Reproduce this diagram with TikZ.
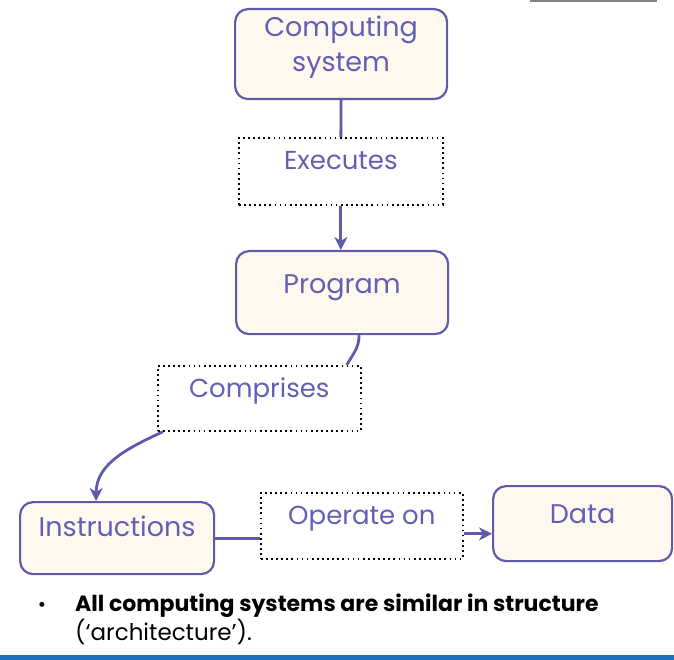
\documentclass[tikz,border=0pt]{standalone}
\usepackage{fontspec}
\setmainfont{Poppins}
\usetikzlibrary{arrows.meta, positioning}
\definecolor{boxline}{RGB}{94,92,170}
\definecolor{boxtext}{RGB}{98,96,180}
\definecolor{boxfill}{RGB}{255,248,238}
\definecolor{rulecol}{RGB}{30,112,192}
\begin{document}
\begin{tikzpicture}
  [
    x=1pt, y=1pt,
    every node/.style={inner sep=0pt, anchor=north west},
    box/.style={draw=boxline, fill=boxfill, line width=2.2pt, rounded corners=13pt,
      text=boxtext, align=center, font=\fontsize{27}{35}\selectfont},
    verb/.style={draw=black, line width=1.7pt, dash pattern=on 1.7pt off 3.4pt,
      text=boxtext, align=center, font=\fontsize{26}{34}\selectfont},
    link/.style={draw=boxline, line width=2.8pt},
    tip/.style={-{Stealth[length=13pt, width=13pt, inset=4pt]}}
  ]
  \useasboundingbox (0,0) rectangle (674,-660);
  \draw[gray, line width=2pt] (530,-1) -- (657,-1);

  \node[box, minimum width=212pt, text height=62pt, text depth=28pt] (computing) at (234,-8) {Computing\\system};
  \node[verb, minimum width=204pt, text height=32pt, text depth=35pt] (executes) at (238,-137) {Executes};
  \node[box, minimum width=212pt, text height=42pt, text depth=41pt] (program) at (235,-250) {Program};
  \node[verb, minimum width=203pt, text height=32pt, text depth=33pt] (comprises) at (157,-365) {Comprises};
  \node[box, minimum width=194pt, text height=34pt, text depth=38pt] (instructions) at (19,-501) {Instructions};
  \node[verb, minimum width=202pt, text height=32pt, text depth=34pt] (operate) at (260,-492) {Operate on};
  \node[box, minimum width=179pt, text height=37pt, text depth=38pt] (data) at (492,-485) {Data};

  \draw[link] (computing.south) -- (executes.north);
  \draw[link, tip] (executes.south) -- (executes.south |- program.north);
  \draw[link] ([xshift=17pt]program.south) to[out=-90, in=60] ([xshift=-15pt]comprises.north east);
  \draw[link, tip] ([xshift=6pt]comprises.south west) to[out=205, in=90] ([xshift=-21pt]instructions.north);
  \draw[link] (instructions.east) -- (instructions.east -| operate.west);
  \coordinate (opout) at ([yshift=-8pt]operate.east);
  \draw[link, tip] (opout) -- (opout -| data.west);

  \node[anchor=center, font=\fontsize{20}{25}\selectfont] (bullet) at (42,-607) {•};
  \node[anchor=base west, align=left, font=\fontsize{23}{25}\selectfont] (note) at (75,-640)
    {{\fontsize{22}{25}\selectfont\bfseries All computing systems are similar in structure}\\(‘architecture’).};

  \fill[rulecol] (0,-655) rectangle (674,-660);
\end{tikzpicture}
\end{document}
